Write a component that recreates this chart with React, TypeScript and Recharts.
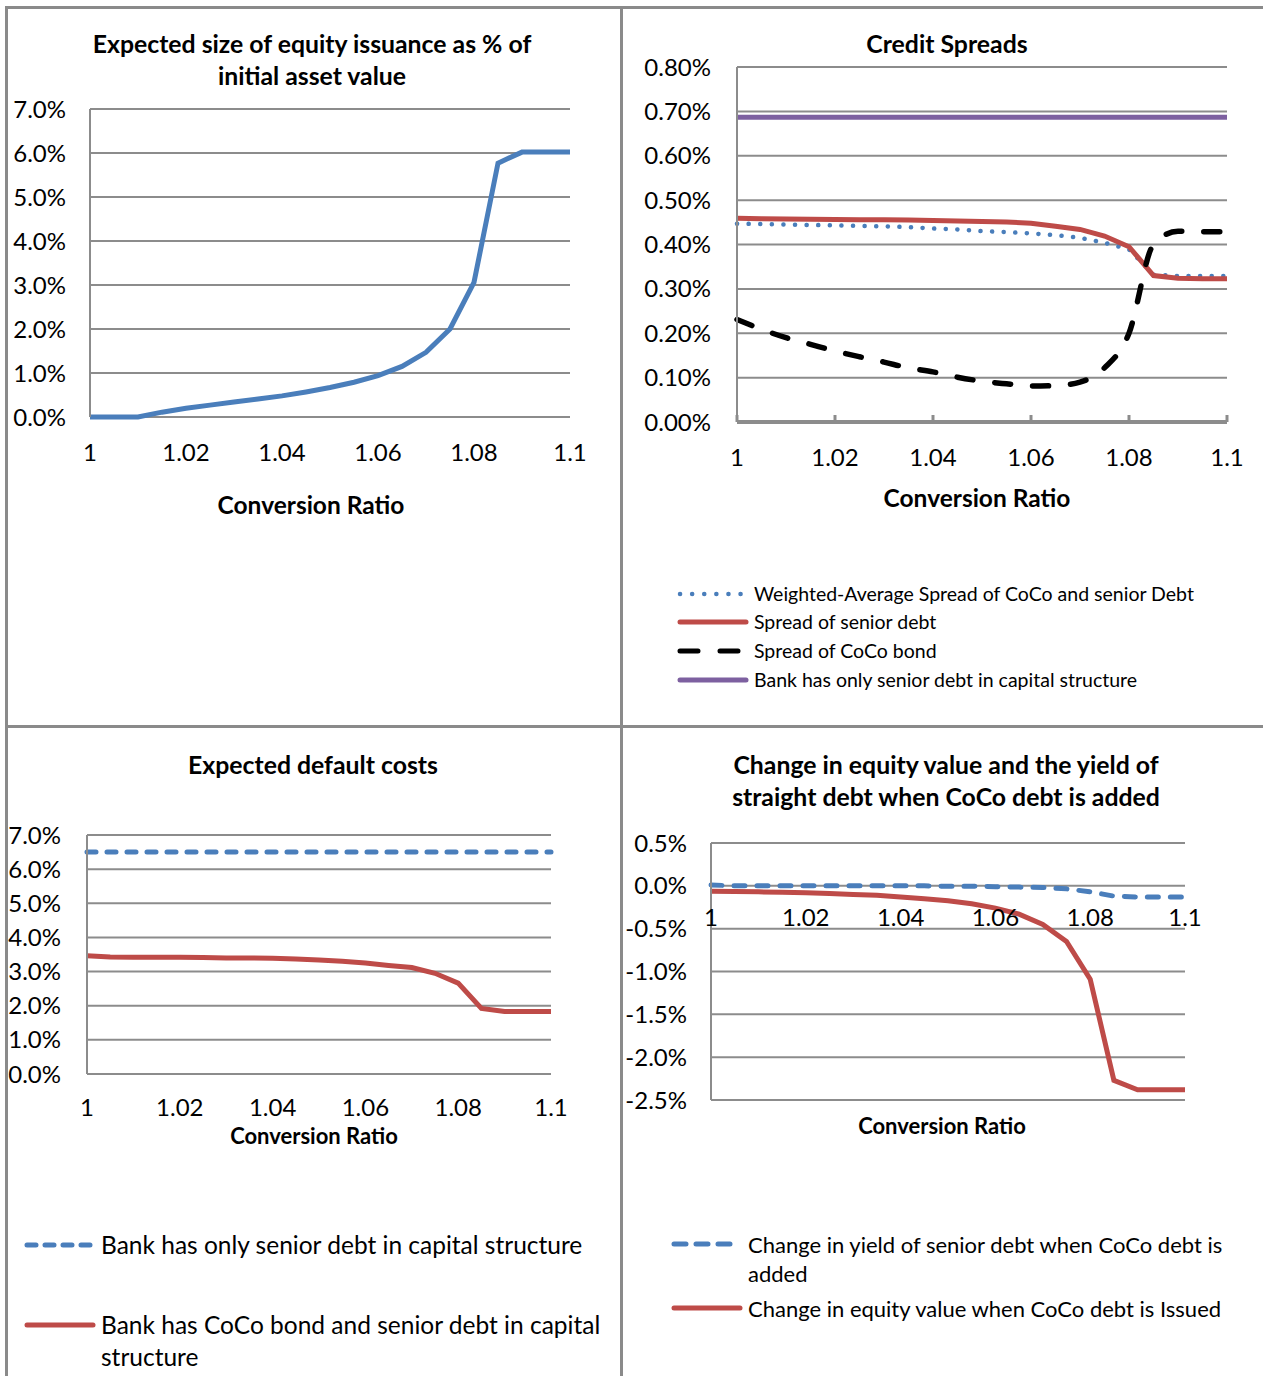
import { CartesianGrid, Line, LineChart, ReferenceDot, XAxis, YAxis } from "recharts";

const FONT = 'Lato, "Open Sans", sans-serif';
const GRID = "#8c8c8c";
const BLUE = "#4a7ebb";
const RED = "#be4b48";
const PURPLE = "#7d60a0";

// conversion ratio categories
const ratio = [
  1, 1.005, 1.01, 1.015, 1.02, 1.025, 1.03, 1.035, 1.04, 1.045, 1.05,
  1.055, 1.06, 1.065, 1.07, 1.075, 1.08, 1.085, 1.09, 1.095, 1.1,
];
const ratioTicks = [1, 1.02, 1.04, 1.06, 1.08, 1.1];

// top left: expected equity issuance, % of initial asset value
const equityIssuance = [
  0, 0, 0, 0.11, 0.2, 0.27, 0.34, 0.41, 0.48, 0.57, 0.67,
  0.79, 0.94, 1.15, 1.47, 2.0, 3.06, 5.77, 6.02, 6.02, 6.02,
];
const issuanceTicks = [0, 1, 2, 3, 4, 5, 6, 7];

// top right: credit spreads, %
const weightedSpread = [
  0.447, 0.446, 0.445, 0.444, 0.443, 0.442, 0.441, 0.439, 0.436, 0.434, 0.43,
  0.428, 0.425, 0.421, 0.415, 0.404, 0.389, 0.332, 0.329, 0.329, 0.329,
];
const seniorSpread = [
  0.459, 0.458, 0.4575, 0.457, 0.4565, 0.456, 0.4555, 0.455, 0.454, 0.453, 0.452,
  0.4505, 0.448, 0.441, 0.434, 0.419, 0.395, 0.33, 0.324, 0.323, 0.323,
];
const cocoSpread = [
  0.231, 0.209, 0.19, 0.175, 0.16, 0.147, 0.135, 0.122, 0.113, 0.101, 0.092,
  0.086, 0.081, 0.082, 0.09, 0.122, 0.2, 0.4, 0.43, 0.429, 0.429,
];
const seniorOnlySpread = [
  0.687, 0.687, 0.687, 0.687, 0.687, 0.687, 0.687, 0.687, 0.687, 0.687, 0.687,
  0.687, 0.687, 0.687, 0.687, 0.687, 0.687, 0.687, 0.687, 0.687, 0.687,
];
const spreadTicks = [0, 0.1, 0.2, 0.3, 0.4, 0.5, 0.6, 0.7, 0.8];

// bottom left: expected default costs, %
const seniorOnlyCost = [
  6.5, 6.5, 6.5, 6.5, 6.5, 6.5, 6.5, 6.5, 6.5, 6.5, 6.5,
  6.5, 6.5, 6.5, 6.5, 6.5, 6.5, 6.5, 6.5, 6.5, 6.5,
];
const cocoCost = [
  3.46, 3.43, 3.42, 3.42, 3.42, 3.41, 3.4, 3.4, 3.39, 3.37, 3.34,
  3.3, 3.25, 3.18, 3.12, 2.95, 2.66, 1.92, 1.83, 1.83, 1.83,
];
const costTicks = [0, 1, 2, 3, 4, 5, 6, 7];

// bottom right: change in yield / equity value, %
const yieldChange = [
  0.01, 0, 0, 0, 0, 0, 0, 0, 0, 0, -0.005,
  -0.005, -0.01, -0.015, -0.02, -0.035, -0.07, -0.12, -0.13, -0.13, -0.13,
];
const equityChange = [
  -0.062, -0.065, -0.07, -0.074, -0.08, -0.09, -0.1, -0.11, -0.13, -0.15, -0.175,
  -0.21, -0.26, -0.33, -0.45, -0.65, -1.09, -2.27, -2.38, -2.38, -2.38,
];
const changeTicks = [-2.5, -2, -1.5, -1, -0.5, 0, 0.5];

const issuanceRows = ratio.map((r, i) => ({ ratio: r, issuance: equityIssuance[i] }));
const spreadRows = ratio.map((r, i) => ({
  ratio: r,
  weighted: weightedSpread[i],
  senior: seniorSpread[i],
  coco: cocoSpread[i],
  seniorOnly: seniorOnlySpread[i],
}));
const costRows = ratio.map((r, i) => ({ ratio: r, seniorOnly: seniorOnlyCost[i], coco: cocoCost[i] }));
const changeRows = ratio.map((r, i) => ({ ratio: r, yieldChg: yieldChange[i], equityChg: equityChange[i] }));

const fmtRatio = (v: number) => String(Number(v.toFixed(2)));
const pct1 = (v: number) => v.toFixed(1) + "%";
const pct2 = (v: number) => v.toFixed(2) + "%";

const TICK_SIZE = 24;
const tickStyle = { fill: "#000", fontSize: TICK_SIZE, fontFamily: FONT };
const axisLine = { stroke: GRID, strokeWidth: 2 };

function SpreadTick(props: any) {
  const { x, y, payload } = props;
  const base = y - 27;
  return (
    <g>
      <line x1={x} x2={x} y1={base} y2={base - 7} stroke={GRID} strokeWidth={3} />
      <text x={x} y={y} dy="0.71em" textAnchor="middle" fill="#000" fontSize={TICK_SIZE} fontFamily={FONT}>
        {fmtRatio(payload.value)}
      </text>
    </g>
  );
}

function Text({ cx, cy, size, bold, children }: any) {
  return (
    <div
      style={{
        position: "absolute",
        left: cx - 320,
        top: cy - 16,
        width: 640,
        lineHeight: "32px",
        textAlign: "center",
        fontSize: size,
        fontWeight: bold ? 700 : 400,
        fontFamily: FONT,
        color: "#000",
      }}
    >
      {children}
    </div>
  );
}

function Swatch({ color, dash, width = 5 }: any) {
  return (
    <svg width={74} height={12} style={{ display: "block" }}>
      <line
        x1={4}
        x2={70}
        y1={6}
        y2={6}
        stroke={color}
        strokeWidth={width}
        strokeLinecap="round"
        strokeDasharray={dash}
      />
    </svg>
  );
}

function LegendRow({ left, cy, size, lineH, color, dash, width, children }: any) {
  return (
    <div style={{ position: "absolute", left, top: cy - lineH / 2, fontFamily: FONT, fontSize: size, lineHeight: lineH + "px", color: "#000" }}>
      <div style={{ position: "absolute", left: 0, top: lineH / 2 - 6 }}>
        <Swatch color={color} dash={dash} width={width} />
      </div>
      <div style={{ position: "absolute", left: 78, top: 0, whiteSpace: "nowrap" }}>{children}</div>
    </div>
  );
}

function Frame() {
  const bar = { position: "absolute" as const, background: "#8a8a8a" };
  return (
    <>
      <div style={{ ...bar, left: 5, top: 6, width: 1258, height: 3 }} />
      <div style={{ ...bar, left: 5, top: 6, width: 3, height: 1370 }} />
      <div style={{ ...bar, left: 620, top: 6, width: 3, height: 1370 }} />
      <div style={{ ...bar, left: 5, top: 725, width: 1258, height: 3 }} />
    </>
  );
}

export default function App() {
  return (
    <div style={{ position: "absolute", left: 0, top: 0, width: 1263, height: 1376, background: "#fff", overflow: "hidden" }}>
      <Frame />

      {/* top left */}
      <Text cx={312} cy={44} size={24.8} bold>Expected size of equity issuance as % of</Text>
      <Text cx={312} cy={76} size={24.8} bold>initial asset value</Text>
      <div style={{ position: "absolute", left: 0, top: 89 }}>
        <LineChart width={620} height={430} data={issuanceRows} margin={{ top: 20, right: 50, bottom: 42, left: 0 }}>
          <CartesianGrid vertical={false} stroke={GRID} strokeWidth={2} />
          <XAxis dataKey="ratio" type="number" domain={[1, 1.1]} ticks={ratioTicks} interval={0} tickFormatter={fmtRatio}
            axisLine={false} tickLine={false} tickSize={0} tickMargin={27} height={60} tick={tickStyle} />
          <YAxis type="number" domain={[0, 7]} ticks={issuanceTicks} interval={0} tickFormatter={pct1}
            width={90} axisLine={axisLine} tickLine={false} tickSize={0} tickMargin={24} tick={tickStyle} />
          <Line dataKey="issuance" type="linear" stroke={BLUE} strokeWidth={5} dot={false} isAnimationActive={false} />
        </LineChart>
      </div>
      <Text cx={311} cy={505} size={24.5} bold>Conversion Ratio</Text>

      {/* top right */}
      <Text cx={947} cy={44} size={24.8} bold>Credit Spreads</Text>
      <div style={{ position: "absolute", left: 623, top: 47 }}>
        <LineChart width={640} height={430} data={spreadRows} margin={{ top: 20, right: 36, bottom: 0, left: 0 }}>
          <CartesianGrid vertical={false} stroke={GRID} strokeWidth={2} />
          <XAxis dataKey="ratio" type="number" domain={[1, 1.1]} ticks={ratioTicks} interval={0}
            axisLine={{ stroke: GRID, strokeWidth: 4 }} tickLine={false} tickSize={0} tickMargin={27} height={55}
            tick={<SpreadTick />} />
          <YAxis type="number" domain={[0, 0.8]} ticks={spreadTicks} interval={0} tickFormatter={pct2}
            width={114} axisLine={axisLine} tickLine={false} tickSize={0} tickMargin={26} tick={tickStyle} />
          <Line dataKey="weighted" type="linear" stroke={BLUE} strokeWidth={4.5} strokeLinecap="round"
            strokeDasharray="0.1 11.5" dot={false} isAnimationActive={false} />
          <Line dataKey="senior" type="linear" stroke={RED} strokeWidth={5} dot={false} isAnimationActive={false} />
          <Line dataKey="coco" type="monotone" stroke="#000" strokeWidth={5.5} strokeLinecap="round"
            strokeDasharray="16 22" dot={false} isAnimationActive={false} />
          <Line dataKey="seniorOnly" type="linear" stroke={PURPLE} strokeWidth={5} dot={false} isAnimationActive={false} />
        </LineChart>
      </div>
      <Text cx={977} cy={498} size={24.5} bold>Conversion Ratio</Text>
      <LegendRow left={676} cy={594} size={19.5} lineH={28} color={BLUE} width={4.5} dash="0.1 12">
        Weighted-Average Spread of CoCo and senior Debt
      </LegendRow>
      <LegendRow left={676} cy={622} size={19.5} lineH={28} color={RED}>Spread of senior debt</LegendRow>
      <LegendRow left={676} cy={651} size={19.5} lineH={28} color="#000" dash="18 22">Spread of CoCo bond</LegendRow>
      <LegendRow left={676} cy={680} size={19.5} lineH={28} color={PURPLE}>
        Bank has only senior debt in capital structure
      </LegendRow>

      {/* bottom left */}
      <Text cx={313} cy={765} size={24.8} bold>Expected default costs</Text>
      <div style={{ position: "absolute", left: 0, top: 815 }}>
        <LineChart width={620} height={310} data={costRows} margin={{ top: 20, right: 69, bottom: 0, left: 0 }}>
          <CartesianGrid vertical={false} stroke={GRID} strokeWidth={2} />
          <XAxis dataKey="ratio" type="number" domain={[1, 1.1]} ticks={ratioTicks} interval={0} tickFormatter={fmtRatio}
            axisLine={false} tickLine={false} tickSize={0} tickMargin={25} height={51} tick={tickStyle} />
          <YAxis type="number" domain={[0, 7]} ticks={costTicks} interval={0} tickFormatter={pct1}
            width={87} axisLine={axisLine} tickLine={false} tickSize={0} tickMargin={26} tick={tickStyle} />
          <Line dataKey="seniorOnly" type="linear" stroke={BLUE} strokeWidth={5} strokeLinecap="round"
            strokeDasharray="9 11" dot={false} isAnimationActive={false} />
          <Line dataKey="coco" type="linear" stroke={RED} strokeWidth={5} dot={false} isAnimationActive={false} />
        </LineChart>
      </div>
      <Text cx={314} cy={1136} size={22} bold>Conversion Ratio</Text>
      <LegendRow left={23} cy={1245} size={24.5} lineH={32} color={BLUE} dash="9 9">
        Bank has only senior debt in capital structure
      </LegendRow>
      <LegendRow left={23} cy={1325} size={24.5} lineH={32} color={RED}>
        Bank has CoCo bond and senior debt in capital
        <br />
        structure
      </LegendRow>

      {/* bottom right */}
      <Text cx={946} cy={765} size={24.8} bold>Change in equity value and the yield of</Text>
      <Text cx={946} cy={797} size={24.8} bold>straight debt when CoCo debt is added</Text>
      <div style={{ position: "absolute", left: 623, top: 823 }}>
        <LineChart width={640} height={310} data={changeRows} margin={{ top: 20, right: 78, bottom: 33, left: 0 }}>
          <CartesianGrid vertical={false} stroke={GRID} strokeWidth={2} />
          <XAxis dataKey="ratio" type="number" domain={[1, 1.1]} ticks={ratioTicks} hide />
          <YAxis type="number" domain={[-2.5, 0.5]} ticks={changeTicks} interval={0} tickFormatter={pct1}
            width={88} axisLine={axisLine} tickLine={false} tickSize={0} tickMargin={24} tick={tickStyle} />
          <Line dataKey="yieldChg" type="linear" stroke={BLUE} strokeWidth={5} strokeLinecap="round"
            strokeDasharray="11 12" dot={false} isAnimationActive={false} />
          <Line dataKey="equityChg" type="linear" stroke={RED} strokeWidth={5} dot={false} isAnimationActive={false} />
          {ratioTicks.map((t) => (
            <ReferenceDot key={t} x={t} y={0} r={0} fill="none" stroke="none" ifOverflow="visible"
              label={{ value: fmtRatio(t), position: "bottom", offset: 23, fill: "#000", fontSize: TICK_SIZE, fontFamily: FONT }} />
          ))}
        </LineChart>
      </div>
      <Text cx={942} cy={1126} size={22} bold>Conversion Ratio</Text>
      <LegendRow left={670} cy={1244} size={22} lineH={29} color={BLUE} dash="12 10">
        Change in yield of senior debt when CoCo debt is
        <br />
        added
      </LegendRow>
      <LegendRow left={670} cy={1308} size={22} lineH={29} color={RED}>
        Change in equity value when CoCo debt is Issued
      </LegendRow>
    </div>
  );
}
